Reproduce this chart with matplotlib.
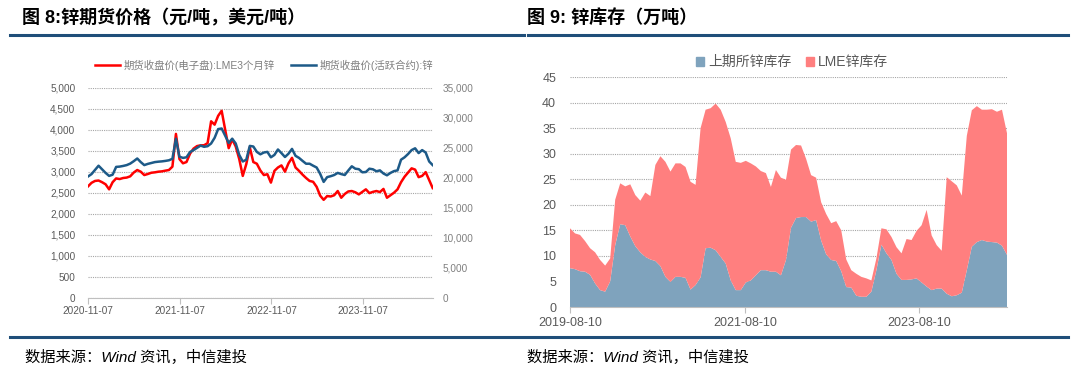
import matplotlib
matplotlib.use("Agg")
import matplotlib.pyplot as plt
import matplotlib.dates as mdates
from matplotlib.ticker import FuncFormatter
from matplotlib.patches import Patch
from matplotlib.lines import Line2D
import pandas as pd

plt.rcParams['font.family'] = ['Liberation Sans', 'Noto Sans CJK SC', 'DejaVu Sans']

# 图8 锌期货价格, 两周一个点
price_dates = pd.date_range('2020-11-07', periods=99, freq='14D')
lme_price = [2650, 2735, 2780, 2790, 2750, 2700, 2580, 2750, 2840, 2825,
             2850, 2860, 2890, 2980, 3040, 3000, 2920, 2945, 2975, 2985,
             3000, 3008, 3025, 3040, 3120, 3900, 3300, 3200, 3230, 3428,
             3550, 3610, 3627, 3630, 3680, 4200, 4120, 4330, 4450, 4000,
             3560, 3770, 3600, 3300, 2900, 3180, 3580, 3230, 3190, 3030,
             2920, 2940, 2740, 3020, 3100, 3150, 3000, 3200, 3330, 3100,
             3020, 2930, 2850, 2780, 2760, 2640, 2430, 2330, 2420, 2410,
             2440, 2540, 2380, 2470, 2530, 2540, 2510, 2460, 2520, 2580,
             2490, 2520, 2540, 2515, 2590, 2380, 2440, 2500, 2580, 2750,
             2880, 2980, 3080, 3050, 2870, 2900, 2990, 2800, 2610]
shfe_price = [20200, 20600, 21300, 22000, 21400, 20800, 20300, 20500, 21800, 21850,
              21960, 22100, 22350, 22750, 23200, 22600, 22100, 22300, 22450, 22600,
              22670, 22720, 22800, 22900, 23150, 26500, 23500, 23300, 23400, 24280,
              24600, 24970, 25350, 25150, 25250, 25700, 26650, 28100, 28200, 27000,
              25800, 26500, 25700, 23800, 22700, 23000, 25300, 25200, 24300, 23900,
              24200, 24300, 23400, 23800, 24700, 24100, 23450, 24000, 24800, 23650,
              23300, 22800, 22330, 22330, 22000, 21700, 20650, 19300, 20100, 20250,
              20450, 20800, 20600, 20450, 21200, 21900, 21500, 21420, 20900, 20950,
              21500, 21400, 21070, 21220, 20700, 20400, 20800, 21100, 21220, 23000,
              23400, 23950, 24600, 24900, 24100, 24600, 24200, 22700, 22100]
price_ticks = ['2020-11-07', '2021-11-07', '2022-11-07', '2023-11-07']

# 图9 锌库存(万吨), 三周一个点
stock_dates = pd.date_range('2019-08-10', periods=88, freq='21D')
shfe_stock = [7.6, 7.4, 7.0, 6.9, 6.3, 4.6, 3.3, 3.0, 5.0, 12.1,
              16.2, 16.0, 13.8, 11.9, 10.7, 9.8, 9.3, 9.0, 8.0, 5.9,
              4.9, 5.9, 5.9, 5.7, 3.4, 4.3, 5.8, 11.5, 11.6, 11.1,
              9.8, 8.5, 5.2, 3.3, 3.3, 4.8, 5.2, 6.2, 7.2, 7.2,
              6.9, 6.9, 6.2, 9.2, 15.5, 17.4, 17.6, 17.6, 16.7, 17.0,
              13.0, 10.3, 9.2, 9.0, 7.0, 3.9, 3.8, 2.2, 2.0, 2.0,
              3.0, 7.2, 12.2, 10.5, 9.2, 6.5, 5.3, 5.3, 5.4, 5.6,
              4.8, 4.0, 3.3, 3.6, 3.6, 2.6, 2.1, 2.3, 2.8, 7.2,
              11.8, 12.7, 13.1, 12.8, 12.7, 12.6, 12.0, 10.2]
lme_stock = [7.8, 7.0, 7.1, 6.0, 5.2, 6.1, 5.9, 5.1, 4.5, 8.9,
             8.0, 7.6, 10.2, 10.0, 10.1, 12.6, 12.4, 18.8, 21.5, 22.5,
             21.6, 22.2, 22.2, 21.7, 21.1, 19.6, 29.2, 27.1, 27.3, 28.7,
             28.8, 27.7, 27.8, 25.1, 24.9, 23.8, 22.9, 21.3, 19.4, 19.0,
             16.6, 19.9, 19.1, 15.7, 15.3, 14.3, 14.0, 11.4, 9.1, 8.3,
             7.5, 7.9, 7.2, 7.8, 8.0, 5.4, 3.4, 4.3, 3.9, 3.6,
             2.2, 2.3, 3.2, 4.7, 4.5, 5.2, 5.2, 8.0, 7.7, 9.3,
             11.2, 15.0, 10.7, 8.5, 7.4, 22.8, 22.5, 21.5, 19.0, 26.3,
             26.7, 26.6, 25.5, 25.8, 26.0, 25.6, 26.6, 23.8]
stock_ticks = ['2019-08-10', '2021-08-10', '2023-08-10']

W, H = 1080, 375
fig = plt.figure(figsize=(W / 100, H / 100), dpi=100)
grey = '#595959'
rule = '#1f4e79'
grid_kw = dict(color='#a6a6a6', ls=(0, (1, 1)), lw=0.8)

# ---- 图8 ----
ax1 = fig.add_axes([88 / W, 1 - 297.7 / H, 344.7 / W, 210 / H])
l1, = ax1.plot(price_dates, lme_price, color='#ff0000', lw=1.8)
ax2 = ax1.twinx()
l2, = ax2.plot(price_dates, shfe_price, color='#1d5a88', lw=1.8)
ax1.set_ylim(0, 5000)
ax2.set_ylim(0, 35000)
ax1.set_yticks(range(0, 5001, 500))
ax2.set_yticks(range(0, 35001, 5000))
fmt = FuncFormatter(lambda v, p: f'{v:,.0f}')
ax1.yaxis.set_major_formatter(fmt)
ax2.yaxis.set_major_formatter(fmt)
ax1.set_xlim(price_dates[0], pd.Timestamp('2024-08-10'))
ax1.set_xticks(pd.to_datetime(price_ticks))
ax1.xaxis.set_major_formatter(mdates.DateFormatter('%Y-%m-%d'))
ax1.grid(axis='y', **grid_kw)
ax1.set_axisbelow(True)
for ax in (ax1, ax2):
    for s in ax.spines.values():
        s.set_visible(False)
ax1.spines['bottom'].set_visible(True)
ax1.spines['bottom'].set_color('#bfbfbf')
ax1.tick_params(axis='x', length=4, color='#bfbfbf', labelsize=7.2, labelcolor=grey, pad=2)
ax1.tick_params(axis='y', length=0, labelsize=7.2, labelcolor=grey, pad=9)
ax2.tick_params(axis='y', length=0, labelsize=7.2, labelcolor='#7f7f7f', pad=7)
fig.legend([l1, l2], ['期货收盘价(电子盘):LME3个月锌', '期货收盘价(活跃合约):锌'],
           loc='center', bbox_to_anchor=(264 / W, 1 - 65 / H), ncol=2, frameon=False,
           fontsize=7.5, labelcolor='#7f7f7f', handlelength=2.4, columnspacing=1.6,
           handletextpad=0.3)

# ---- 图9 ----
ax3 = fig.add_axes([570 / W, 1 - 307 / H, 437 / W, 230 / H])
ax3.stackplot(stock_dates, shfe_stock, lme_stock, colors=['#7fa3bd', '#ff7f7f'], lw=0)
ax3.set_ylim(0, 45)
ax3.set_yticks(range(0, 46, 5))
ax3.set_xlim(stock_dates[0], stock_dates[-1])
ax3.set_xticks(pd.to_datetime(stock_ticks))
ax3.xaxis.set_major_formatter(mdates.DateFormatter('%Y-%m-%d'))
ax3.grid(axis='y', **grid_kw)
ax3.set_axisbelow(True)
for s in ax3.spines.values():
    s.set_visible(False)
ax3.spines['bottom'].set_visible(True)
ax3.spines['bottom'].set_color('#bfbfbf')
ax3.tick_params(axis='x', length=4, color='#bfbfbf', labelsize=9, labelcolor=grey, pad=3)
ax3.tick_params(axis='y', length=0, labelsize=9, labelcolor=grey, pad=10)
handles = [Patch(color='#7fa3bd'), Patch(color='#ff7f7f')]
fig.legend(handles, ['上期所锌库存', 'LME锌库存'], loc='center',
           bbox_to_anchor=(792 / W, 1 - 62 / H), ncol=2, frameon=False,
           fontsize=10, labelcolor=grey, handlelength=0.6, handleheight=0.6,
           handletextpad=0.3, columnspacing=1.0)

# 标题、分隔线、来源
fig.text(22 / W, 1 - 18 / H, '图 8:锌期货价格（元/吨，美元/吨）', fontsize=13,
         fontweight='bold', va='center', ha='left')
fig.text(527 / W, 1 - 18 / H, '图 9: 锌库存（万吨）', fontsize=13,
         fontweight='bold', va='center', ha='left')
fig.add_artist(Line2D([10 / W, 524 / W], [1 - 34.5 / H] * 2, color=rule, lw=2.2))
fig.add_artist(Line2D([528 / W, 1068 / W], [1 - 34.5 / H] * 2, color=rule, lw=2.2))
fig.add_artist(Line2D([10 / W, 1068 / W], [1 - 337 / H] * 2, color=rule, lw=2.2))
fig.text(25 / W, 1 - 357 / H, '数据来源：Wind 资讯，中信建投', fontsize=11,
         style='italic', va='center', ha='left')
fig.text(527 / W, 1 - 357 / H, '数据来源：Wind 资讯，中信建投', fontsize=11,
         style='italic', va='center', ha='left')

fig.savefig('out.png', dpi=100)
